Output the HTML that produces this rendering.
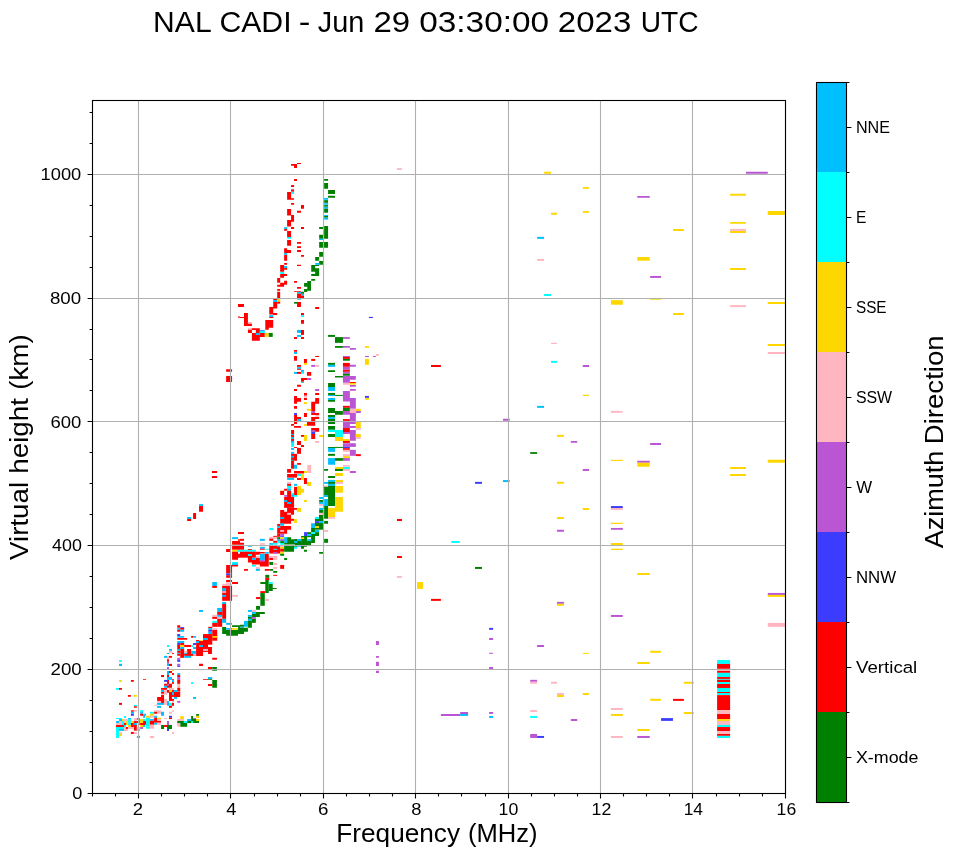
<!DOCTYPE html><html><head><meta charset="utf-8"><style>html,body{margin:0;padding:0;background:#fff}svg{display:block} svg{will-change:transform}</style></head><body>
<svg width="958" height="857" viewBox="0 0 958 857">
<rect width="958" height="857" fill="#fff"/>
<path d="M291.08 164.12h5.95v1.59h-5.95zM294.05 164.12h2.98v3.77h-2.98zM297.03 162.93h3.97v0.99h-3.97zM294.05 179h2.98v1.98h-2.98zM291.08 185.05h2.98v1.88h-2.98z" fill="#ff0000"/>
<path d="M291.08 188.92h2.98v0.79h-2.98z" fill="#ba55d3"/>
<path d="M291.08 189.71h2.98v1.98h-2.98z" fill="#ff0000"/>
<path d="M291.08 191.9h2.98v1.98h-2.98z" fill="#00ffff"/>
<path d="M287.11 191.9h3.97v7.93h-3.97zM291.08 198.14h2.98v1.69h-2.98zM291.08 203.1h2.98v1.69h-2.98zM301 205.09h2.98v3.77h-2.98zM297.03 210.84h3.97v1.98h-3.97zM287.11 209.05h3.97v6.45h-3.97zM291.08 215.01h2.98v6.65h-2.98zM287.11 219.96h3.97v6.65h-3.97z" fill="#ff0000"/>
<path d="M284.14 227.11h2.98v1.79h-2.98z" fill="#00bfff"/>
<path d="M284.14 228.89h2.98v1.98h-2.98zM291.08 227.11h2.98v1.79h-2.98zM301 227.11h2.98v1.79h-2.98zM287.11 231.07h3.97v5.95h-3.97z" fill="#ff0000"/>
<path d="M287.11 237.02h3.97v1.79h-3.97z" fill="#00ffff"/>
<path d="M324.11 179h3.97v1.79h-3.97zM324.11 183.07h3.97v5.65h-3.97zM328.07 189.91h6.94v3.97h-6.94zM328.07 195.86h6.94v1.98h-6.94z" fill="#008000"/>
<path d="M324.11 197.95h3.97v1.88h-3.97z" fill="#00bfff"/>
<path d="M324.11 200.13h3.97v2.68h-3.97z" fill="#008000"/>
<path d="M324.11 203.1h3.97v1.69h-3.97z" fill="#00bfff"/>
<path d="M324.11 205.09h3.97v1.69h-3.97z" fill="#008000"/>
<path d="M324.11 206.77h3.97v1.98h-3.97z" fill="#00bfff"/>
<path d="M324.11 208.76h3.97v3.97h-3.97z" fill="#008000"/>
<path d="M324.11 215.01h3.97v0.99h-3.97z" fill="#00bfff"/>
<path d="M324.11 216h3.97v1.69h-3.97z" fill="#008000"/>
<path d="M324.11 217.68h3.97v1.98h-3.97z" fill="#00bfff"/>
<path d="M324.11 226.11h3.97v12.7h-3.97zM319.15 227.11h3.97v1.79h-3.97zM319.15 234.84h3.97v3.97h-3.97z" fill="#008000"/>
<path d="M319.15 238.81h3.97v1.19h-3.97z" fill="#00bfff"/>
<path d="M287.11 240h3.97v5.75h-3.97zM297.03 241.98h3.97v1.79h-3.97zM297.03 246.15h3.97v1.79h-3.97zM297.03 250.12h3.97v1.79h-3.97zM284.14 248.13h2.98v4.76h-2.98zM287.11 249.92h3.97v2.98h-3.97z" fill="#ff0000"/>
<path d="M284.14 252.89h2.98v1.98h-2.98z" fill="#00bfff"/>
<path d="M284.14 254.88h2.98v5.95h-2.98zM301 254.88h2.98v1.98h-2.98zM284.14 263.11h2.98v1.69h-2.98zM297.03 264.8h3.97v1.19h-3.97zM280.17 264.99h3.97v6.74h-3.97z" fill="#ff0000"/>
<path d="M284.14 265.99h2.98v1.98h-2.98z" fill="#00bfff"/>
<path d="M284.14 267.97h2.98v1.79h-2.98z" fill="#ff0000"/>
<path d="M280.17 271.94h3.97v1.98h-3.97z" fill="#00ffff"/>
<path d="M280.17 273.92h3.97v3.77h-3.97zM284.14 273.92h2.98v1.98h-2.98zM277.19 277.89h2.98v4.76h-2.98zM280.17 282.85h3.97v3.77h-3.97zM284.14 280.86h2.98v3.77h-2.98zM277.19 284.83h6.94v1.98h-6.94zM294.05 280.96h2.98v1.88h-2.98zM297.03 286.91h3.97v1.88h-3.97zM277.19 288.9h2.98v1.88h-2.98zM294.05 290.88h6.94v0.99h-6.94zM277.19 291.87h2.98v6.15h-2.98z" fill="#ff0000"/>
<path d="M297.03 291.87h3.97v1.88h-3.97z" fill="#00bfff"/>
<path d="M297.03 293.76h3.97v4.26h-3.97z" fill="#ff0000"/>
<path d="M301 293.76h2.98v1.98h-2.98z" fill="#00bfff"/>
<path d="M301 295.74h2.98v2.28h-2.98z" fill="#ff0000"/>
<path d="M301 291.87h2.98v1.88h-2.98zM319.15 241.98h8.93v5.75h-8.93zM319.15 252.1h3.97v4.76h-3.97zM315.18 257.06h3.97v3.77h-3.97zM319.15 261.03h3.97v3.77h-3.97z" fill="#008000"/>
<path d="M315.18 263.01h3.97v1.79h-3.97z" fill="#00bfff"/>
<path d="M311.21 264.99h7.93v0.99h-7.93zM311.21 265.99h3.97v5.85h-3.97zM315.18 268.27h3.97v7.64h-3.97zM311.21 274.12h3.97v1.79h-3.97zM311.21 278.88h3.97v1.98h-3.97zM307.25 281.06h3.77v9.62h-3.77zM304.07 283.05h3.17v3.67h-3.17zM304.07 289.1h3.17v2.78h-3.17z" fill="#008000"/>
<path d="M273.23 298.72h3.97v1.29h-3.97z" fill="#ff0000"/>
<path d="M273.23 300.01h3.97v1.98h-3.97z" fill="#00bfff"/>
<path d="M277.19 299.01h2.98v2.68h-2.98z" fill="#ffd700"/>
<path d="M277.19 301.69h2.98v1.98h-2.98z" fill="#ff0000"/>
<path d="M297.03 298.72h3.97v0.99h-3.97z" fill="#00bfff"/>
<path d="M294.05 301.99h2.98v1.69h-2.98z" fill="#008000"/>
<path d="M297.03 301.99h3.97v4.96h-3.97zM273.23 301.99h3.97v6.45h-3.97zM269.26 306.95h3.97v7.44h-3.97zM273.23 312.9h3.97v1.98h-3.97z" fill="#ff0000"/>
<path d="M269.26 315.08h3.97v1.98h-3.97z" fill="#00bfff"/>
<path d="M269.26 317.07h3.97v0.99h-3.97zM240 303.97h3.97v2.98h-3.97zM315.18 306.95h3.97v1.98h-3.97zM301 313.1h2.98v1.79h-2.98z" fill="#ff0000"/>
<path d="M301 315.08h2.98v1.98h-2.98z" fill="#00ffff"/>
<path d="M301 320.04h2.98v3.77h-2.98zM243.97 313.1h3.97v11.9h-3.97zM240 317.07h3.97v0.99h-3.97z" fill="#ff0000"/>
<path d="M247.93 322.02h3.97v1.79h-3.97z" fill="#ffb6c1"/>
<path d="M247.93 323.81h3.97v1.19h-3.97zM265.29 320.04h7.93v4.96h-7.93zM243.97 325h7.93v0.99h-7.93zM265.29 325h7.93v2.78h-7.93zM265.29 327.78h3.47v1.98h-3.47z" fill="#ff0000"/>
<path d="M247.93 328.17h3.97v1.59h-3.97z" fill="#ffb6c1"/>
<path d="M251.9 328.17h7.93v1.79h-7.93zM247.93 329.76h3.97v3.17h-3.97zM255.87 329.76h3.97v3.17h-3.97z" fill="#ff0000"/>
<path d="M259.84 329.96h4.96v0.79h-4.96z" fill="#3c3cff"/>
<path d="M259.84 330.75h4.96v2.18h-4.96z" fill="#00ffff"/>
<path d="M255.87 332.93h3.97v1.98h-3.97z" fill="#00bfff"/>
<path d="M251.9 332.93h3.97v7.93h-3.97zM255.87 334.92h3.97v5.95h-3.97zM259.84 332.93h4.96v3.97h-4.96z" fill="#ff0000"/>
<path d="M264.8 332.93h3.97v3.97h-3.97z" fill="#ffd700"/>
<path d="M268.76 332.93h3.97v3.97h-3.97z" fill="#008000"/>
<path d="M297.03 329.96h3.97v2.98h-3.97z" fill="#00bfff"/>
<path d="M301 329.96h2.98v4.96h-2.98z" fill="#ff0000"/>
<path d="M297.03 334.92h3.97v1.98h-3.97z" fill="#00bfff"/>
<path d="M294.05 336.9h2.98v1.98h-2.98zM301 336.9h2.98v1.98h-2.98z" fill="#ff0000"/>
<path d="M328.07 334.92h6.94v1.98h-6.94z" fill="#008000"/>
<path d="M294.05 349.99h2.98v1.79h-2.98z" fill="#ff0000"/>
<path d="M294.05 351.98h2.98v1.98h-2.98z" fill="#00bfff"/>
<path d="M294.05 356.04h2.98v4.66h-2.98zM315.18 355.95h3.97v0.99h-3.97zM303.97 358.92h2.98v3.97h-2.98z" fill="#ff0000"/>
<path d="M303.97 362.89h2.98v1.98h-2.98z" fill="#ffd700"/>
<path d="M311.21 358.92h3.97v1.98h-3.97z" fill="#ff0000"/>
<path d="M311.21 364.87h3.97v1.98h-3.97z" fill="#ba55d3"/>
<path d="M315.18 364.87h3.97v1.98h-3.97z" fill="#ffb6c1"/>
<path d="M297.03 364.97h3.97v1.88h-3.97z" fill="#ff0000"/>
<path d="M297.03 367.15h3.97v1.69h-3.97z" fill="#00bfff"/>
<path d="M297.03 368.84h3.97v0.99h-3.97z" fill="#ff0000"/>
<path d="M301 369.93h2.98v1.98h-2.98z" fill="#00bfff"/>
<path d="M301 371.91h2.98v1.98h-2.98z" fill="#00ffff"/>
<path d="M297.03 371.91h3.97v1.98h-3.97z" fill="#ff0000"/>
<path d="M294.05 371.91h2.98v1.98h-2.98z" fill="#00bfff"/>
<path d="M306.95 371.91h4.26v3.87h-4.26zM301 378.06h5.95v1.98h-5.95zM301 380.05h2.98v1.79h-2.98z" fill="#ff0000"/>
<path d="M301 381.83h2.98v0.99h-2.98z" fill="#00bfff"/>
<path d="M306.95 378.06h4.26v1.98h-4.26z" fill="#ba55d3"/>
<path d="M297.03 384.81h3.97v1.98h-3.97zM294.05 388.97h2.98v1.98h-2.98z" fill="#ff0000"/>
<path d="M315.18 388.97h3.97v1.98h-3.97z" fill="#ba55d3"/>
<path d="M303.97 392.94h2.98v2.68h-2.98z" fill="#ff0000"/>
<path d="M303.97 395.92h2.98v1.79h-2.98z" fill="#ffb6c1"/>
<path d="M303.97 397.9h2.98v1.98h-2.98zM315.18 392.94h3.97v1.98h-3.97zM294.05 395.92h2.98v7.93h-2.98zM297.03 397.9h3.97v3.97h-3.97z" fill="#ff0000"/>
<path d="M303.97 402.07h2.98v1.98h-2.98z" fill="#ffd700"/>
<path d="M315.18 398.1h3.97v5.75h-3.97zM311.21 401.87h3.97v8.13h-3.97zM294.05 406.03h2.98v2.78h-2.98z" fill="#ff0000"/>
<path d="M306.95 408.81h4.26v1.19h-4.26z" fill="#ffd700"/>
<path d="M328.07 362.89h6.94v1.98h-6.94z" fill="#008000"/>
<path d="M328.07 364.87h6.94v1.98h-6.94z" fill="#00bfff"/>
<path d="M328.07 370.13h6.94v1.98h-6.94zM328.07 383.02h6.94v3.97h-6.94z" fill="#008000"/>
<path d="M328.07 386.99h6.94v3.97h-6.94z" fill="#00bfff"/>
<path d="M328.07 392.94h6.94v1.98h-6.94z" fill="#008000"/>
<path d="M328.07 394.92h6.94v0.99h-6.94zM328.07 397.9h6.94v1.98h-6.94z" fill="#00bfff"/>
<path d="M328.07 399.88h6.94v1.98h-6.94zM328.07 408.02h6.94v1.98h-6.94z" fill="#008000"/>
<path d="M306.95 410h4.26v0.79h-4.26z" fill="#ffd700"/>
<path d="M311.21 410h3.97v0.99h-3.97z" fill="#ff0000"/>
<path d="M311.21 410.99h3.97v1.98h-3.97z" fill="#ba55d3"/>
<path d="M294.05 412.98h2.98v1.98h-2.98z" fill="#3c3cff"/>
<path d="M303.97 412.98h2.98v3.97h-2.98zM311.21 412.98h7.93v1.98h-7.93z" fill="#ff0000"/>
<path d="M315.18 414.96h3.97v1.79h-3.97z" fill="#ffb6c1"/>
<path d="M294.05 414.96h2.98v5.95h-2.98zM297.03 416.94h3.97v1.98h-3.97z" fill="#ff0000"/>
<path d="M297.03 418.93h3.97v1.98h-3.97z" fill="#00bfff"/>
<path d="M311.21 416.94h3.97v3.97h-3.97zM315.18 416.94h3.97v1.98h-3.97zM294.05 421.9h2.98v1.98h-2.98zM291.08 424.08h2.98v1.79h-2.98zM294.05 426.07h6.94v1.79h-6.94z" fill="#ff0000"/>
<path d="M303.97 424.08h2.98v1.79h-2.98z" fill="#ffd700"/>
<path d="M306.95 422.1h8.23v3.77h-8.23zM311.21 428.05h7.93v3.77h-7.93z" fill="#ff0000"/>
<path d="M311.21 430.04h3.97v1.98h-3.97z" fill="#ba55d3"/>
<path d="M311.21 432.02h3.97v1.98h-3.97z" fill="#3c3cff"/>
<path d="M311.21 434h3.97v4.96h-3.97zM291.08 430.04h2.98v3.97h-2.98z" fill="#ff0000"/>
<path d="M291.08 434h2.98v0.99h-2.98z" fill="#00bfff"/>
<path d="M291.08 434.99h2.98v1.98h-2.98z" fill="#ff0000"/>
<path d="M291.08 436.98h2.98v1.98h-2.98z" fill="#00bfff"/>
<path d="M291.08 438.96h2.98v1.98h-2.98z" fill="#ff0000"/>
<path d="M291.08 440.95h2.98v1.98h-2.98z" fill="#00bfff"/>
<path d="M291.08 442.93h2.98v3.97h-2.98z" fill="#00ffff"/>
<path d="M301 434.99h2.98v1.79h-2.98z" fill="#ff0000"/>
<path d="M303.97 434.99h2.98v5.95h-2.98zM319.15 434.99h3.97v1.98h-3.97z" fill="#ffd700"/>
<path d="M315.18 440.95h3.97v1.98h-3.97z" fill="#ffb6c1"/>
<path d="M297.03 441.04h3.97v3.87h-3.97zM301 444.91h2.98v1.98h-2.98zM294.05 446.9h2.98v0.99h-2.98z" fill="#ff0000"/>
<path d="M291.08 447.89h2.98v1.98h-2.98z" fill="#00bfff"/>
<path d="M297.03 447.89h3.97v5.95h-3.97z" fill="#ff0000"/>
<path d="M291.08 451.95h2.98v1.88h-2.98z" fill="#00bfff"/>
<path d="M291.08 453.84h5.95v6.94h-5.95z" fill="#ff0000"/>
<path d="M291.08 455.82h2.98v1.98h-2.98zM291.08 459.79h2.98v0.99h-2.98z" fill="#00bfff"/>
<path d="M291.08 460.78h2.98v7.93h-2.98z" fill="#ff0000"/>
<path d="M294.05 464.75h2.98v3.97h-2.98z" fill="#00bfff"/>
<path d="M297.03 463.06h3.97v1.69h-3.97z" fill="#ff0000"/>
<path d="M307.25 465.05h3.97v7.93h-3.97z" fill="#ffb6c1"/>
<path d="M287.11 469.01h3.97v3.67h-3.97zM294.05 471h9.92v2.48h-9.92z" fill="#ff0000"/>
<path d="M303.97 471h2.98v1.98h-2.98z" fill="#ffd700"/>
<path d="M287.11 473.97h9.92v3.67h-9.92z" fill="#ff0000"/>
<path d="M297.03 473.97h3.97v1.98h-3.97z" fill="#00ffff"/>
<path d="M301 473.97h2.98v5.95h-2.98z" fill="#ffd700"/>
<path d="M287.11 477.94h6.94v1.98h-6.94z" fill="#00bfff"/>
<path d="M297.03 477.94h3.97v1.98h-3.97zM303.97 477.94h2.98v5.95h-2.98z" fill="#ff0000"/>
<path d="M306.95 481.91h4.26v3.97h-4.26z" fill="#ffd700"/>
<path d="M287.11 481.91h3.97v1.98h-3.97z" fill="#ffb6c1"/>
<path d="M287.11 483.89h3.97v1.98h-3.97z" fill="#ff0000"/>
<path d="M294.05 483.89h2.98v1.98h-2.98z" fill="#00bfff"/>
<path d="M287.11 485.88h3.97v2.48h-3.97z" fill="#00ffff"/>
<path d="M287.11 488.35h3.97v2.48h-3.97z" fill="#00bfff"/>
<path d="M284.14 488.85h2.98v1.98h-2.98zM280.17 490.83h3.97v4.17h-3.97zM287.11 490.83h3.97v4.17h-3.97z" fill="#ff0000"/>
<path d="M291.08 492.82h2.98v2.18h-2.98z" fill="#00ffff"/>
<path d="M294.05 486.87h2.98v8.13h-2.98z" fill="#ff0000"/>
<path d="M297.03 485.88h3.97v9.12h-3.97zM301 488.85h2.98v3.97h-2.98z" fill="#ffd700"/>
<path d="M328.07 410h6.94v2.98h-6.94zM328.07 414.96h6.94v1.98h-6.94z" fill="#008000"/>
<path d="M328.07 416.94h6.94v1.98h-6.94z" fill="#00bfff"/>
<path d="M328.07 418.93h6.94v1.98h-6.94zM328.07 421.9h6.94v1.98h-6.94zM328.07 426.07h6.94v3.77h-6.94z" fill="#008000"/>
<path d="M328.07 429.84h6.94v2.18h-6.94z" fill="#00ffff"/>
<path d="M328.07 434h6.94v2.98h-6.94zM328.07 446.9h6.94v0.99h-6.94z" fill="#008000"/>
<path d="M328.07 447.89h6.94v3.97h-6.94z" fill="#00bfff"/>
<path d="M328.07 453.84h6.94v1.98h-6.94z" fill="#008000"/>
<path d="M328.07 458.1h6.94v6.65h-6.94z" fill="#00bfff"/>
<path d="M324.11 469.01h3.97v1.69h-3.97zM328.07 475.96h6.94v1.98h-6.94z" fill="#008000"/>
<path d="M328.07 479.92h6.94v1.98h-6.94z" fill="#00bfff"/>
<path d="M328.07 481.91h6.94v1.98h-6.94z" fill="#008000"/>
<path d="M328.07 483.89h6.94v1.98h-6.94z" fill="#00bfff"/>
<path d="M324.11 485.88h10.91v9.12h-10.91z" fill="#008000"/>
<path d="M324.11 481.91h3.97v1.98h-3.97z" fill="#00bfff"/>
<path d="M324.11 485.88h3.97v0.99h-3.97z" fill="#ffb6c1"/>
<path d="M284.14 495h2.98v1.79h-2.98z" fill="#ba55d3"/>
<path d="M287.11 495h3.97v1.98h-3.97z" fill="#ff0000"/>
<path d="M291.08 495h2.98v1.79h-2.98z" fill="#00bfff"/>
<path d="M294.05 495h2.98v1.79h-2.98z" fill="#00ffff"/>
<path d="M284.14 496.98h9.92v10.91h-9.92z" fill="#ff0000"/>
<path d="M284.14 499.96h2.98v1.98h-2.98zM287.11 501.94h3.97v1.98h-3.97z" fill="#00bfff"/>
<path d="M287.11 507.89h6.94v6.94h-6.94zM294.05 507.89h2.98v1.98h-2.98z" fill="#ff0000"/>
<path d="M297.03 507.89h3.97v3.97h-3.97z" fill="#ffd700"/>
<path d="M280.17 509.88h3.97v1.98h-3.97zM280.17 511.86h10.91v11.9h-10.91z" fill="#ff0000"/>
<path d="M287.11 512.85h3.97v1.98h-3.97z" fill="#ffb6c1"/>
<path d="M280.17 517.02h3.97v1.98h-3.97z" fill="#00bfff"/>
<path d="M291.08 518.8h2.98v1.98h-2.98z" fill="#ff0000"/>
<path d="M294.05 519h2.98v3.97h-2.98z" fill="#ffd700"/>
<path d="M280.17 523.27h3.97v2.48h-3.97z" fill="#00bfff"/>
<path d="M277.19 523.96h2.98v1.98h-2.98z" fill="#ff0000"/>
<path d="M277.19 525.95h2.98v1.98h-2.98z" fill="#00bfff"/>
<path d="M280.17 525.95h10.91v3.77h-10.91zM277.19 527.93h9.92v5.75h-9.92z" fill="#ff0000"/>
<path d="M280.17 529.91h3.97v1.98h-3.97z" fill="#ffb6c1"/>
<path d="M269.26 527.93h3.97v1.98h-3.97z" fill="#00ffff"/>
<path d="M240 531.9h3.97v1.98h-3.97zM277.19 533.68h2.98v2.98h-2.98z" fill="#ff0000"/>
<path d="M280.17 533.88h3.97v1.98h-3.97z" fill="#ba55d3"/>
<path d="M280.17 535.86h3.97v0.99h-3.97z" fill="#3c3cff"/>
<path d="M269.26 536.86h7.93v1.98h-7.93z" fill="#ffb6c1"/>
<path d="M273.23 535.86h3.97v0.99h-3.97z" fill="#ff0000"/>
<path d="M277.19 537.15h2.98v1.98h-2.98z" fill="#008000"/>
<path d="M280.17 537.15h3.97v1.98h-3.97z" fill="#ffd700"/>
<path d="M284.14 537.15h2.98v5.95h-2.98z" fill="#00bfff"/>
<path d="M280.17 539.14h3.97v1.98h-3.97z" fill="#ba55d3"/>
<path d="M280.17 541.12h3.97v1.98h-3.97z" fill="#008000"/>
<path d="M277.19 539.14h2.98v1.98h-2.98z" fill="#00bfff"/>
<path d="M277.19 541.12h2.98v1.98h-2.98z" fill="#00ffff"/>
<path d="M240 538.84h3.97v1.98h-3.97z" fill="#ff0000"/>
<path d="M259.84 538.84h4.96v1.98h-4.96z" fill="#00bfff"/>
<path d="M269.26 538.84h3.97v1.98h-3.97zM273.23 540.82h3.97v1.98h-3.97zM240 542.81h3.97v1.98h-3.97z" fill="#ff0000"/>
<path d="M259.84 543.1h4.96v1.69h-4.96z" fill="#ffb6c1"/>
<path d="M269.26 543.1h3.97v1.69h-3.97z" fill="#00bfff"/>
<path d="M273.23 543.1h3.97v1.69h-3.97zM280.17 543.1h3.97v1.69h-3.97z" fill="#00ffff"/>
<path d="M287.11 537.15h3.97v7.44h-3.97zM284.14 543.1h26.78v1.49h-26.78zM291.08 539.14h5.95v3.97h-5.95z" fill="#008000"/>
<path d="M294.05 540.82h2.98v1.98h-2.98z" fill="#00bfff"/>
<path d="M297.03 540.82h3.97v2.28h-3.97z" fill="#008000"/>
<path d="M297.03 538.84h3.97v1.98h-3.97z" fill="#00bfff"/>
<path d="M301 537.15h2.98v1.98h-2.98z" fill="#ffd700"/>
<path d="M301 535.86h5.95v7.24h-5.95zM303.97 533.19h6.94v2.68h-6.94z" fill="#008000"/>
<path d="M303.97 531.9h2.98v3.97h-2.98z" fill="#3c3cff"/>
<path d="M306.95 533.88h3.97v1.98h-3.97z" fill="#00bfff"/>
<path d="M311.21 531.9h3.97v1.98h-3.97z" fill="#00ffff"/>
<path d="M311.21 528.23h3.97v14.38h-3.97z" fill="#008000"/>
<path d="M306.95 538.84h4.26v1.98h-4.26z" fill="#00bfff"/>
<path d="M315.18 531.9h3.97v3.97h-3.97z" fill="#008000"/>
<path d="M315.18 529.91h3.97v1.98h-3.97z" fill="#00bfff"/>
<path d="M311.21 523.96h11.9v5.75h-11.9z" fill="#008000"/>
<path d="M311.21 523.76h3.97v3.97h-3.97z" fill="#00bfff"/>
<path d="M315.18 525.95h3.97v1.98h-3.97z" fill="#ffd700"/>
<path d="M315.18 520.99h3.97v1.98h-3.97z" fill="#3c3cff"/>
<path d="M319.15 520.99h3.97v1.98h-3.97z" fill="#00bfff"/>
<path d="M315.18 517.02h3.97v1.98h-3.97z" fill="#00ffff"/>
<path d="M319.15 515.04h3.97v5.95h-3.97zM315.18 519h3.97v1.98h-3.97z" fill="#008000"/>
<path d="M319.15 496.98h3.97v1.98h-3.97z" fill="#00bfff"/>
<path d="M319.15 499.96h3.97v1.98h-3.97z" fill="#008000"/>
<path d="M319.15 501.94h3.97v1.98h-3.97z" fill="#00bfff"/>
<path d="M319.15 504.12h3.97v1.79h-3.97z" fill="#ffb6c1"/>
<path d="M319.15 507.89h3.97v1.98h-3.97z" fill="#00bfff"/>
<path d="M319.15 509.88h3.97v2.98h-3.97z" fill="#008000"/>
<path d="M319.15 513.05h3.97v1.79h-3.97z" fill="#ffb6c1"/>
<path d="M324.11 495h3.97v1.98h-3.97zM324.11 498.97h3.97v6.94h-3.97z" fill="#00bfff"/>
<path d="M328.07 495h6.94v10.91h-6.94zM324.11 505.91h3.97v12.89h-3.97z" fill="#008000"/>
<path d="M328.07 507.89h6.94v9.12h-6.94z" fill="#ffd700"/>
<path d="M328.07 517.02h6.94v1.79h-6.94z" fill="#ffb6c1"/>
<path d="M324.11 520.99h3.97v2.78h-3.97z" fill="#008000"/>
<path d="M324.11 529.91h3.97v1.98h-3.97z" fill="#ffb6c1"/>
<path d="M324.11 538.84h3.97v3.97h-3.97z" fill="#008000"/>
<path d="M303.97 499.96h2.98v1.98h-2.98z" fill="#ffd700"/>
<path d="M247.93 545.78h3.97v0.99h-3.97z" fill="#00bfff"/>
<path d="M259.84 544.79h4.96v0.99h-4.96z" fill="#ffb6c1"/>
<path d="M240 545.78h3.97v3.97h-3.97zM247.93 549.05h3.97v0.99h-3.97z" fill="#ff0000"/>
<path d="M240 549.75h15.87v1.98h-15.87z" fill="#00ffff"/>
<path d="M259.84 546.77h4.96v1.98h-4.96z" fill="#00bfff"/>
<path d="M259.84 548.76h4.96v0.99h-4.96z" fill="#ff0000"/>
<path d="M264.8 548.76h3.97v0.99h-3.97z" fill="#00ffff"/>
<path d="M269.26 545.78h10.91v7.74h-10.91z" fill="#ff0000"/>
<path d="M277.19 545.78h2.98v0.99h-2.98z" fill="#00bfff"/>
<path d="M273.23 548.76h3.97v0.99h-3.97z" fill="#00ffff"/>
<path d="M280.17 546.77h3.97v1.98h-3.97z" fill="#ffd700"/>
<path d="M280.17 545.78h3.97v0.99h-3.97z" fill="#ffb6c1"/>
<path d="M280.17 548.76h3.97v2.98h-3.97z" fill="#ff0000"/>
<path d="M280.17 551.73h3.97v1.98h-3.97z" fill="#ffd700"/>
<path d="M280.17 553.72h3.97v1.98h-3.97zM284.14 545.78h9.92v5.95h-9.92zM294.05 545.78h2.98v0.99h-2.98z" fill="#008000"/>
<path d="M294.05 546.77h2.98v1.98h-2.98z" fill="#00ffff"/>
<path d="M297.03 545.78h3.97v0.99h-3.97z" fill="#00bfff"/>
<path d="M301 545.78h2.98v2.98h-2.98zM303.97 545.78h2.98v0.99h-2.98zM303.97 549.75h2.98v1.98h-2.98z" fill="#008000"/>
<path d="M240 551.73h15.87v5.95h-15.87z" fill="#ff0000"/>
<path d="M247.93 554.01h3.97v1.98h-3.97z" fill="#00ffff"/>
<path d="M255.87 551.73h3.97v2.98h-3.97zM259.84 552.03h4.96v1.49h-4.96z" fill="#ff0000"/>
<path d="M264.8 552.03h3.97v1.69h-3.97z" fill="#00bfff"/>
<path d="M273.23 552.03h3.97v1.69h-3.97z" fill="#ba55d3"/>
<path d="M259.84 554.01h4.96v5.95h-4.96z" fill="#00bfff"/>
<path d="M255.87 556h3.97v1.98h-3.97z" fill="#ffb6c1"/>
<path d="M251.9 557.98h3.97v1.98h-3.97z" fill="#00bfff"/>
<path d="M247.93 556h3.97v6.45h-3.97zM251.9 559.96h7.93v4.46h-7.93zM255.87 557.98h3.97v1.98h-3.97zM264.8 554.01h3.97v10.41h-3.97zM259.84 560.96h8.93v5.46h-8.93z" fill="#ff0000"/>
<path d="M259.84 559.96h4.96v1.69h-4.96z" fill="#ba55d3"/>
<path d="M269.26 556h7.93v1.98h-7.93z" fill="#ffb6c1"/>
<path d="M269.26 557.98h3.97v1.98h-3.97z" fill="#ff0000"/>
<path d="M273.23 557.98h3.97v1.98h-3.97z" fill="#ffb6c1"/>
<path d="M269.26 561.95h3.97v2.98h-3.97z" fill="#008000"/>
<path d="M273.23 562.94h3.97v1.98h-3.97z" fill="#ffb6c1"/>
<path d="M251.9 564.92h3.97v1.69h-3.97z" fill="#00ffff"/>
<path d="M255.87 566.91h3.97v1.98h-3.97z" fill="#ffb6c1"/>
<path d="M255.87 568.89h3.97v1.98h-3.97z" fill="#00bfff"/>
<path d="M243.97 568.89h3.97v1.98h-3.97zM264.8 568.89h4.46v1.98h-4.46z" fill="#ff0000"/>
<path d="M269.26 568.89h3.97v1.98h-3.97zM273.23 570.88h3.97v1.98h-3.97z" fill="#008000"/>
<path d="M273.23 566.91h3.97v1.98h-3.97z" fill="#ffb6c1"/>
<path d="M280.17 564.92h3.97v3.97h-3.97z" fill="#ff0000"/>
<path d="M284.14 557.98h2.98v1.98h-2.98zM319.15 552.03h3.97v1.69h-3.97z" fill="#008000"/>
<path d="M273.23 574.84h3.97v0.99h-3.97z" fill="#ff0000"/>
<path d="M265.29 574.84h3.97v2.98h-3.97z" fill="#008000"/>
<path d="M265.29 577.82h3.97v2.18h-3.97z" fill="#ff0000"/>
<path d="M265.29 580h3.47v12.89h-3.47zM260.33 581.98h4.96v1.98h-4.96z" fill="#008000"/>
<path d="M268.76 581.98h3.97v1.98h-3.97z" fill="#00ffff"/>
<path d="M268.76 583.97h3.97v3.97h-3.97zM268.76 587.93h7.93v0.99h-7.93zM268.76 588.93h3.97v1.98h-3.97z" fill="#008000"/>
<path d="M260.33 591.11h4.96v1.98h-4.96z" fill="#ff0000"/>
<path d="M260.33 593.09h4.46v12.7h-4.46z" fill="#008000"/>
<path d="M256.07 597.06h4.26v1.98h-4.26z" fill="#ff0000"/>
<path d="M265.29 599.04h3.47v1.98h-3.47z" fill="#ffb6c1"/>
<path d="M256.07 605.99h3.97v3.77h-3.97z" fill="#008000"/>
<path d="M247.93 609.95h3.97v1.98h-3.97z" fill="#00bfff"/>
<path d="M251.9 609.95h3.97v1.98h-3.97z" fill="#ffb6c1"/>
<path d="M251.9 611.94h3.97v1.98h-3.97z" fill="#00bfff"/>
<path d="M255.87 611.94h8.93v1.98h-8.93zM251.9 613.92h7.93v2.98h-7.93z" fill="#008000"/>
<path d="M247.93 614.91h3.97v1.98h-3.97z" fill="#00bfff"/>
<path d="M247.93 616.9h3.97v1.98h-3.97z" fill="#008000"/>
<path d="M251.9 616.9h3.97v1.98h-3.97z" fill="#ba55d3"/>
<path d="M247.93 618.88h3.97v1.98h-3.97z" fill="#00bfff"/>
<path d="M251.9 618.88h3.97v3.97h-3.97z" fill="#008000"/>
<path d="M243.97 620.86h3.97v5.95h-3.97z" fill="#00bfff"/>
<path d="M247.93 620.86h3.97v6.94h-3.97zM240 624.83h3.97v1.98h-3.97z" fill="#008000"/>
<path d="M240 626.81h3.97v0.99h-3.97z" fill="#00bfff"/>
<path d="M240 627.81h7.93v3.97h-7.93zM240 631.77h3.97v2.28h-3.97z" fill="#008000"/>
<path d="M238.03 303.97h1.98v2.98h-1.98zM238.03 316.57h1.98v1.29h-1.98zM226.13 369.14h5.95v2.68h-5.95zM226.13 376.08h5.95v5.95h-5.95zM211.95 471h5.16v1.98h-5.16zM211.95 475.96h5.16v1.98h-5.16zM238.03 531.9h1.98v1.98h-1.98zM238.03 539.14h1.98v1.69h-1.98z" fill="#ff0000"/>
<path d="M238.03 550.05h1.98v1.98h-1.98z" fill="#00ffff"/>
<path d="M199.05 504.12h3.97v1.79h-3.97z" fill="#00bfff"/>
<path d="M199.05 505.91h3.97v5.95h-3.97zM193.1 513.05h2.98v5.95h-2.98z" fill="#ff0000"/>
<path d="M187.15 517.02h3.97v1.98h-3.97z" fill="#00bfff"/>
<path d="M187.15 519h3.97v1.98h-3.97z" fill="#ff0000"/>
<path d="M232.08 537.15h5.95v1.98h-5.95z" fill="#00bfff"/>
<path d="M232.08 541.12h7.93v3.67h-7.93zM232.08 546.08h7.93v3.67h-7.93z" fill="#ff0000"/>
<path d="M232.08 549.75h5.95v1.98h-5.95z" fill="#ffd700"/>
<path d="M232.08 551.73h5.95v7.93h-5.95zM238.03 553.72h1.98v3.97h-1.98zM226.13 549.05h3.97v2.98h-3.97z" fill="#ff0000"/>
<path d="M232.08 561.95h5.95v2.98h-5.95z" fill="#00ffff"/>
<path d="M231.09 564.92h6.94v1.69h-6.94zM226.13 564.92h5.95v8.43h-5.95z" fill="#ff0000"/>
<path d="M226.13 573.35h5.95v1.98h-5.95z" fill="#3c3cff"/>
<path d="M226.13 575.34h5.95v2.48h-5.95zM226.13 580h5.95v1.98h-5.95zM232.08 581.98h5.95v1.98h-5.95z" fill="#ff0000"/>
<path d="M212.25 581.98h4.66v3.97h-4.66z" fill="#00bfff"/>
<path d="M212.25 585.95h4.66v1.98h-4.66z" fill="#ff0000"/>
<path d="M222.16 583.97h9.92v1.98h-9.92z" fill="#ffb6c1"/>
<path d="M222.16 585.95h9.92v14.88h-9.92z" fill="#ff0000"/>
<path d="M222.16 588.13h3.97v2.78h-3.97z" fill="#00bfff"/>
<path d="M222.16 591.11h3.97v1.79h-3.97z" fill="#ffb6c1"/>
<path d="M222.16 594.88h3.97v1.98h-3.97z" fill="#00bfff"/>
<path d="M232.08 594.88h5.95v1.98h-5.95z" fill="#ffb6c1"/>
<path d="M222.16 602.02h3.97v1.98h-3.97z" fill="#00bfff"/>
<path d="M222.16 604h3.97v14.88h-3.97z" fill="#ff0000"/>
<path d="M217.21 607.97h4.96v3.97h-4.96z" fill="#00bfff"/>
<path d="M217.21 611.94h4.96v2.98h-4.96z" fill="#ff0000"/>
<path d="M217.21 614.91h4.96v1.98h-4.96z" fill="#00bfff"/>
<path d="M212.25 614.91h4.96v1.98h-4.96z" fill="#ffb6c1"/>
<path d="M212.25 616.9h4.96v1.98h-4.96z" fill="#ff0000"/>
<path d="M217.21 616.9h4.96v1.98h-4.96z" fill="#ffb6c1"/>
<path d="M217.21 618.88h4.96v7.93h-4.96z" fill="#ff0000"/>
<path d="M222.16 618.88h3.97v3.97h-3.97z" fill="#00bfff"/>
<path d="M212.25 620.86h4.96v1.98h-4.96z" fill="#00ffff"/>
<path d="M226.13 622.85h5.95v1.98h-5.95z" fill="#00bfff"/>
<path d="M212.25 622.85h4.96v3.97h-4.96z" fill="#ff0000"/>
<path d="M199.05 609.95h3.97v1.98h-3.97z" fill="#00bfff"/>
<path d="M222.16 627.11h3.97v6.94h-3.97zM226.13 630.09h11.9v5.65h-11.9zM232.08 625.13h7.93v1.98h-7.93z" fill="#008000"/>
<path d="M226.13 628.1h5.95v1.69h-5.95z" fill="#00bfff"/>
<path d="M232.08 628.1h5.95v1.69h-5.95z" fill="#ffd700"/>
<path d="M238.03 627.11h1.98v6.94h-1.98z" fill="#008000"/>
<path d="M208.28 626.81h3.97v1.29h-3.97z" fill="#ff0000"/>
<path d="M208.28 628.1h3.97v1.69h-3.97z" fill="#00bfff"/>
<path d="M208.28 629.79h3.97v1.98h-3.97z" fill="#3c3cff"/>
<path d="M208.28 631.77h3.97v2.28h-3.97z" fill="#00bfff"/>
<path d="M212.25 629.79h4.96v10.91h-4.96z" fill="#ff0000"/>
<path d="M212.25 628.1h4.96v1.69h-4.96z" fill="#ffb6c1"/>
<path d="M212.25 636.04h4.96v1.69h-4.96z" fill="#ffd700"/>
<path d="M203.02 634.05h9.22v10.61h-9.22z" fill="#ff0000"/>
<path d="M203.02 638.02h4.96v1.98h-4.96z" fill="#00bfff"/>
<path d="M199.05 640.01h3.97v0.69h-3.97z" fill="#ffd700"/>
<path d="M196.08 640.01h2.98v0.99h-2.98zM196.08 641h6.94v14.88h-6.94z" fill="#ff0000"/>
<path d="M196.08 641h2.98v1.98h-2.98zM199.05 644.96h3.97v1.98h-3.97z" fill="#00bfff"/>
<path d="M203.02 643.97h4.96v7.93h-4.96z" fill="#ff0000"/>
<path d="M203.02 648.93h4.96v1.98h-4.96z" fill="#ffb6c1"/>
<path d="M207.98 646.95h3.97v6.94h-3.97zM177.23 625.13h2.98v2.68h-2.98z" fill="#ff0000"/>
<path d="M180.21 627.11h3.97v0.99h-3.97z" fill="#3c3cff"/>
<path d="M177.23 628.1h2.98v1.69h-2.98z" fill="#00bfff"/>
<path d="M180.21 628.1h3.97v1.69h-3.97zM177.23 629.79h2.98v1.98h-2.98z" fill="#ff0000"/>
<path d="M180.21 629.79h3.97v1.98h-3.97z" fill="#00bfff"/>
<path d="M177.23 634.05h2.98v1.98h-2.98z" fill="#3c3cff"/>
<path d="M177.23 636.04h6.94v1.69h-6.94z" fill="#00bfff"/>
<path d="M177.23 638.02h9.92v1.69h-9.92zM191.12 636.04h1.98v1.69h-1.98z" fill="#ff0000"/>
<path d="M193.1 636.04h2.98v1.69h-2.98zM177.23 641h6.94v1.98h-6.94z" fill="#00bfff"/>
<path d="M177.23 642.98h2.98v1.98h-2.98z" fill="#3c3cff"/>
<path d="M180.21 642.98h3.97v1.98h-3.97zM177.23 644.96h2.98v4.46h-2.98z" fill="#ff0000"/>
<path d="M180.21 644.96h3.97v1.98h-3.97z" fill="#ffd700"/>
<path d="M184.18 644.96h6.94v1.98h-6.94z" fill="#ff0000"/>
<path d="M191.12 644.96h1.98v1.98h-1.98z" fill="#00ffff"/>
<path d="M193.1 642.98h2.98v1.98h-2.98z" fill="#3c3cff"/>
<path d="M180.21 646.95h3.97v1.98h-3.97zM193.1 646.95h2.98v1.98h-2.98z" fill="#00bfff"/>
<path d="M180.21 648.93h3.97v8.93h-3.97z" fill="#ff0000"/>
<path d="M177.23 648.93h2.98v1.98h-2.98z" fill="#00bfff"/>
<path d="M177.23 650.92h2.98v1.98h-2.98z" fill="#ff0000"/>
<path d="M177.23 652.9h2.98v0.99h-2.98z" fill="#00bfff"/>
<path d="M177.23 653.89h2.98v1.98h-2.98zM187.15 648.93h3.97v6.94h-3.97z" fill="#ff0000"/>
<path d="M184.18 650.92h2.98v1.98h-2.98z" fill="#ffb6c1"/>
<path d="M184.18 652.9h2.98v0.99h-2.98z" fill="#00bfff"/>
<path d="M184.18 653.89h11.9v1.98h-11.9z" fill="#ff0000"/>
<path d="M191.12 650.92h4.96v2.98h-4.96z" fill="#00bfff"/>
<path d="M193.1 653.89h2.98v1.98h-2.98z" fill="#ffb6c1"/>
<path d="M184.18 655.88h6.94v1.98h-6.94z" fill="#00bfff"/>
<path d="M167.02 644.96h1.98v1.98h-1.98z" fill="#00ffff"/>
<path d="M169 648.93h2.98v1.98h-2.98z" fill="#00bfff"/>
<path d="M169 650.92h2.98v1.98h-2.98z" fill="#ffb6c1"/>
<path d="M167.02 652.9h1.98v0.99h-1.98z" fill="#00bfff"/>
<path d="M171.98 652.9h1.98v0.99h-1.98z" fill="#ff0000"/>
<path d="M164.04 655.88h2.98v1.98h-2.98z" fill="#00bfff"/>
<path d="M167.02 655.88h1.98v3.47h-1.98z" fill="#ffb6c1"/>
<path d="M169 655.88h2.98v1.98h-2.98zM167.02 659.35h1.98v2.48h-1.98z" fill="#ff0000"/>
<path d="M167.02 661.83h1.98v1.98h-1.98z" fill="#ba55d3"/>
<path d="M167.02 663.81h1.98v1.19h-1.98z" fill="#00bfff"/>
<path d="M169 663.81h2.98v1.19h-2.98z" fill="#ff0000"/>
<path d="M177.23 657.86h2.98v1.98h-2.98z" fill="#ba55d3"/>
<path d="M177.23 659.84h2.98v1.98h-2.98z" fill="#3c3cff"/>
<path d="M177.23 663.81h2.98v1.19h-2.98z" fill="#ba55d3"/>
<path d="M212.25 657.86h4.66v1.98h-4.66zM199.05 663.81h3.97v1.19h-3.97z" fill="#ff0000"/>
<path d="M167.02 665h1.98v0.99h-1.98z" fill="#00bfff"/>
<path d="M169 665h2.98v0.99h-2.98z" fill="#ff0000"/>
<path d="M177.23 665h2.98v1.19h-2.98z" fill="#ba55d3"/>
<path d="M177.23 666.19h2.98v0.79h-2.98z" fill="#3c3cff"/>
<path d="M199.05 665h3.97v0.99h-3.97z" fill="#ff0000"/>
<path d="M167.02 666.98h1.98v1.98h-1.98z" fill="#ba55d3"/>
<path d="M171.98 669.46h1.98v1.49h-1.98z" fill="#ffd700"/>
<path d="M207.98 666.98h4.26v1.98h-4.26z" fill="#ff0000"/>
<path d="M212.25 666.98h4.66v3.77h-4.66z" fill="#008000"/>
<path d="M167.02 670.95h1.98v3.97h-1.98z" fill="#00bfff"/>
<path d="M169 670.95h2.98v1.98h-2.98zM171.98 672.93h1.98v1.98h-1.98z" fill="#ff0000"/>
<path d="M177.23 673.13h2.98v1.79h-2.98z" fill="#00bfff"/>
<path d="M177.23 674.92h2.98v2.18h-2.98z" fill="#ff0000"/>
<path d="M177.23 677.1h2.98v2.78h-2.98z" fill="#ba55d3"/>
<path d="M177.23 679.88h2.98v3.97h-2.98z" fill="#ff0000"/>
<path d="M177.23 684.04h2.98v3.77h-2.98z" fill="#ffb6c1"/>
<path d="M177.23 687.81h2.98v3.97h-2.98z" fill="#ff0000"/>
<path d="M177.23 691.78h2.98v1.19h-2.98z" fill="#ffb6c1"/>
<path d="M173.96 691.98h6.25v4.96h-6.25zM161.07 674.92h2.98v1.98h-2.98zM167.02 674.92h1.98v1.98h-1.98z" fill="#ff0000"/>
<path d="M167.02 676.9h4.96v2.98h-4.96z" fill="#00bfff"/>
<path d="M171.98 679.08h1.98v0.79h-1.98z" fill="#ff0000"/>
<path d="M171.98 679.88h1.98v2.18h-1.98z" fill="#00bfff"/>
<path d="M171.98 682.06h1.98v1.79h-1.98z" fill="#ff0000"/>
<path d="M164.04 679.88h2.98v1.98h-2.98z" fill="#3c3cff"/>
<path d="M167.02 679.88h1.98v7.93h-1.98z" fill="#ff0000"/>
<path d="M167.02 683.84h1.98v2.18h-1.98z" fill="#ba55d3"/>
<path d="M169 683.84h2.98v3.97h-2.98zM164.04 683.84h2.98v1.98h-2.98z" fill="#ff0000"/>
<path d="M164.04 685.83h2.98v1.98h-2.98z" fill="#00bfff"/>
<path d="M161.07 688.01h5.95v1.79h-5.95z" fill="#ff0000"/>
<path d="M169 688.01h4.96v1.79h-4.96z" fill="#ffb6c1"/>
<path d="M161.07 689.99h2.98v1.98h-2.98z" fill="#00bfff"/>
<path d="M164.04 689.99h2.98v4.76h-2.98z" fill="#ffb6c1"/>
<path d="M167.02 689.99h1.98v2.78h-1.98z" fill="#ff0000"/>
<path d="M169 689.99h2.98v1.98h-2.98z" fill="#ffd700"/>
<path d="M171.98 689.99h1.98v1.98h-1.98z" fill="#ff0000"/>
<path d="M173.96 689.99h3.27v1.98h-3.27z" fill="#00bfff"/>
<path d="M161.07 691.98h2.98v1.79h-2.98zM161.07 694.75h2.98v8.13h-2.98zM157.1 696.94h3.97v3.97h-3.97z" fill="#ff0000"/>
<path d="M157.1 700.9h3.97v1.98h-3.97z" fill="#ffb6c1"/>
<path d="M157.1 702.89h6.94v1.98h-6.94z" fill="#00bfff"/>
<path d="M164.04 698.92h2.98v5.95h-2.98z" fill="#ffb6c1"/>
<path d="M169 691.98h2.98v8.93h-2.98z" fill="#ff0000"/>
<path d="M171.98 691.98h1.98v2.98h-1.98z" fill="#00bfff"/>
<path d="M171.98 694.95h1.98v1.98h-1.98z" fill="#ff0000"/>
<path d="M173.96 696.94h3.27v1.98h-3.27z" fill="#00bfff"/>
<path d="M169 698.92h4.96v1.98h-4.96z" fill="#ff0000"/>
<path d="M167.02 700.9h1.98v4.96h-1.98z" fill="#00bfff"/>
<path d="M169 702.89h2.98v2.98h-2.98z" fill="#00ffff"/>
<path d="M171.98 702.89h1.98v2.98h-1.98z" fill="#ff0000"/>
<path d="M171.98 700.9h1.98v1.98h-1.98z" fill="#ffb6c1"/>
<path d="M157.1 705.86h3.97v1.98h-3.97z" fill="#00bfff"/>
<path d="M169 705.86h2.98v1.98h-2.98z" fill="#ff0000"/>
<path d="M177.23 700.9h2.98v1.98h-2.98z" fill="#ba55d3"/>
<path d="M145 679.08h0.99v0.79h-0.99z" fill="#ff0000"/>
<path d="M191.12 682.06h1.98v1.98h-1.98z" fill="#00ffff"/>
<path d="M193.1 696.94h2.98v1.98h-2.98z" fill="#00bfff"/>
<path d="M154.12 704.87h2.98v0.99h-2.98zM154.12 710.13h6.94v1.69h-6.94zM157.1 711.81h3.97v1.98h-3.97z" fill="#ffb6c1"/>
<path d="M154.12 711.81h2.98v1.98h-2.98z" fill="#ff0000"/>
<path d="M149.96 711.81h4.17v1.98h-4.17z" fill="#00ffff"/>
<path d="M145.99 715.78h3.97v1.98h-3.97zM149.96 713.8h4.17v1.98h-4.17z" fill="#ffd700"/>
<path d="M149.96 715.78h4.17v1.98h-4.17z" fill="#ffb6c1"/>
<path d="M154.12 715.78h2.98v1.98h-2.98z" fill="#00bfff"/>
<path d="M157.1 717.77h3.97v1.29h-3.97z" fill="#ffd700"/>
<path d="M145 713.8h0.99v1.98h-0.99zM161.07 711.81h2.98v3.97h-2.98z" fill="#00bfff"/>
<path d="M169 711.81h2.98v1.98h-2.98zM171.98 710.13h1.98v1.69h-1.98z" fill="#ffb6c1"/>
<path d="M145.99 717.77h3.97v8.93h-3.97z" fill="#00ffff"/>
<path d="M149.96 719.05h4.17v1.69h-4.17z" fill="#00bfff"/>
<path d="M149.96 720.74h4.17v3.97h-4.17zM154.12 717.77h2.98v4.96h-2.98zM157.1 720.74h3.97v1.98h-3.97z" fill="#ff0000"/>
<path d="M157.1 719.05h3.97v1.69h-3.97z" fill="#ffb6c1"/>
<path d="M154.12 722.72h2.98v1.98h-2.98z" fill="#00bfff"/>
<path d="M157.1 722.72h3.97v1.98h-3.97z" fill="#ffb6c1"/>
<path d="M145 720.74h0.99v3.97h-0.99z" fill="#ff0000"/>
<path d="M145.99 726.69h3.97v1.98h-3.97z" fill="#00ffff"/>
<path d="M149.96 724.71h4.17v3.97h-4.17z" fill="#ffb6c1"/>
<path d="M169 715.78h2.98v1.98h-2.98z" fill="#3c3cff"/>
<path d="M169 717.77h2.98v1.29h-2.98z" fill="#ff0000"/>
<path d="M164.04 718.06h2.98v0.99h-2.98z" fill="#ffb6c1"/>
<path d="M167.02 721.04h1.98v3.97h-1.98z" fill="#ba55d3"/>
<path d="M167.02 725.01h4.96v3.97h-4.96z" fill="#008000"/>
<path d="M167.02 728.97h1.98v1.98h-1.98z" fill="#3c3cff"/>
<path d="M161.07 725.01h2.98v3.97h-2.98z" fill="#008000"/>
<path d="M164.04 725.01h2.98v1.98h-2.98z" fill="#ff0000"/>
<path d="M171.98 731.95h1.98v1.98h-1.98zM149.96 735.92h4.17v1.98h-4.17z" fill="#ffb6c1"/>
<path d="M180.21 716.08h3.67v2.98h-3.67z" fill="#ffd700"/>
<path d="M177.23 719.05h6.65v1.98h-6.65z" fill="#ffb6c1"/>
<path d="M177.23 721.04h6.65v1.98h-6.65zM180.21 723.02h6.94v3.67h-6.94z" fill="#008000"/>
<path d="M177.23 723.02h2.98v3.67h-2.98z" fill="#ffb6c1"/>
<path d="M183.88 721.04h3.27v1.98h-3.27z" fill="#00ffff"/>
<path d="M187.15 719.05h3.97v1.98h-3.97z" fill="#00bfff"/>
<path d="M187.15 721.04h3.97v1.98h-3.97zM191.12 716.08h1.98v2.98h-1.98zM191.12 719.05h7.93v3.97h-7.93z" fill="#008000"/>
<path d="M193.1 718.06h2.98v0.99h-2.98z" fill="#ba55d3"/>
<path d="M191.12 721.04h1.98v1.98h-1.98z" fill="#00ffff"/>
<path d="M196.08 716.08h2.98v1.98h-2.98zM196.08 719.05h2.98v1.98h-2.98z" fill="#ffd700"/>
<path d="M196.08 714.1h2.98v1.69h-2.98z" fill="#008000"/>
<path d="M203.02 679.08h4.96v0.79h-4.96z" fill="#ff0000"/>
<path d="M207.98 677.1h4.26v1.98h-4.26z" fill="#00bfff"/>
<path d="M207.98 679.08h4.26v0.79h-4.26zM212.25 680.08h4.66v7.74h-4.66z" fill="#008000"/>
<path d="M207.98 684.04h4.26v1.98h-4.26z" fill="#ff0000"/>
<path d="M119 660.14h2.98v1.69h-2.98z" fill="#00ffff"/>
<path d="M119 663.81h2.98v1.19h-2.98zM119 665h2.98v0.99h-2.98z" fill="#00bfff"/>
<path d="M119 680.08h2.98v1.79h-2.98z" fill="#ffd700"/>
<path d="M130.9 680.08h2.98v1.79h-2.98zM143 679.08h1.98v0.79h-1.98z" fill="#ff0000"/>
<path d="M116.03 688.01h2.98v1.79h-2.98z" fill="#00ffff"/>
<path d="M119 688.01h2.98v1.79h-2.98zM127.93 694.95h2.98v1.79h-2.98z" fill="#ff0000"/>
<path d="M133.88 694.95h2.98v1.79h-2.98z" fill="#ffd700"/>
<path d="M119 702.89h2.98v1.98h-2.98z" fill="#ff0000"/>
<path d="M133.88 704.87h2.98v1.29h-2.98z" fill="#00ffff"/>
<path d="M133.88 706.16h2.98v1.69h-2.98zM130.9 710.13h2.98v1.69h-2.98z" fill="#ff0000"/>
<path d="M133.88 710.13h2.98v1.69h-2.98z" fill="#ffb6c1"/>
<path d="M130.9 711.81h2.98v1.98h-2.98z" fill="#00bfff"/>
<path d="M130.9 713.8h2.98v1.98h-2.98z" fill="#3c3cff"/>
<path d="M140.13 710.13h2.98v1.98h-2.98z" fill="#00ffff"/>
<path d="M140.13 712.11h2.98v1.69h-2.98z" fill="#00bfff"/>
<path d="M140.13 713.8h2.98v1.98h-2.98z" fill="#ff0000"/>
<path d="M143.1 713.8h1.88v3.97h-1.88z" fill="#00bfff"/>
<path d="M123.96 716.08h1.98v1.98h-1.98zM116.03 718.06h5.95v0.99h-5.95z" fill="#00ffff"/>
<path d="M119 719.05h2.98v1.98h-2.98z" fill="#00bfff"/>
<path d="M121.98 719.05h1.98v1.98h-1.98z" fill="#ffd700"/>
<path d="M123.96 719.05h3.97v2.48h-3.97z" fill="#ffb6c1"/>
<path d="M127.93 718.06h2.98v6.94h-2.98z" fill="#00ffff"/>
<path d="M127.93 718.06h2.98v0.99h-2.98zM116.03 721.04h2.98v1.98h-2.98z" fill="#00bfff"/>
<path d="M119 721.04h2.98v2.98h-2.98z" fill="#ffb6c1"/>
<path d="M121.98 721.04h1.98v3.97h-1.98z" fill="#00ffff"/>
<path d="M123.96 721.53h1.98v2.48h-1.98z" fill="#ffb6c1"/>
<path d="M125.95 721.04h1.98v3.97h-1.98z" fill="#ffd700"/>
<path d="M116.03 723.02h5.95v1.98h-5.95z" fill="#ffb6c1"/>
<path d="M116.03 725.01h7.93v1.98h-7.93z" fill="#ff0000"/>
<path d="M123.96 725.01h1.98v1.98h-1.98z" fill="#00ffff"/>
<path d="M123.96 723.02h1.98v1.98h-1.98z" fill="#ff0000"/>
<path d="M127.93 725.01h2.98v1.98h-2.98z" fill="#ffd700"/>
<path d="M130.9 723.02h2.98v3.97h-2.98z" fill="#ff0000"/>
<path d="M130.9 721.04h2.98v1.98h-2.98z" fill="#ffd700"/>
<path d="M133.88 721.04h2.98v1.98h-2.98z" fill="#ff0000"/>
<path d="M133.88 718.06h2.98v2.98h-2.98z" fill="#ffb6c1"/>
<path d="M133.88 723.02h2.98v1.98h-2.98z" fill="#00bfff"/>
<path d="M133.88 725.01h2.98v5.65h-2.98z" fill="#ff0000"/>
<path d="M136.86 718.06h1.59v1.98h-1.59z" fill="#ba55d3"/>
<path d="M138.44 718.06h1.69v6.94h-1.69z" fill="#00bfff"/>
<path d="M140.13 719.05h2.98v3.97h-2.98z" fill="#ffd700"/>
<path d="M140.13 723.02h4.86v1.98h-4.86z" fill="#ff0000"/>
<path d="M143.1 719.05h1.88v1.98h-1.88z" fill="#00ffff"/>
<path d="M143.1 721.04h1.88v1.98h-1.88z" fill="#ff0000"/>
<path d="M143.1 725.01h1.88v1.98h-1.88z" fill="#00bfff"/>
<path d="M140.13 725.01h2.98v1.98h-2.98z" fill="#ffd700"/>
<path d="M136.86 721.04h1.59v1.98h-1.59z" fill="#ff0000"/>
<path d="M116.03 726.99h2.98v10.91h-2.98zM119 726.99h4.96v1.98h-4.96z" fill="#00ffff"/>
<path d="M119 728.97h4.96v1.98h-4.96z" fill="#00bfff"/>
<path d="M123.96 726.99h3.97v3.97h-3.97z" fill="#ffb6c1"/>
<path d="M125.95 726.99h1.98v1.98h-1.98z" fill="#ff0000"/>
<path d="M127.93 726.99h5.95v1.98h-5.95z" fill="#ffb6c1"/>
<path d="M136.86 728.97h3.27v1.98h-3.27z" fill="#00ffff"/>
<path d="M140.13 726.99h2.98v1.98h-2.98z" fill="#ba55d3"/>
<path d="M136.86 726.99h3.27v1.98h-3.27zM119 731.95h2.98v1.69h-2.98z" fill="#ffb6c1"/>
<path d="M119 733.63h2.98v2.28h-2.98z" fill="#ffd700"/>
<path d="M130.9 731.95h2.98v1.98h-2.98z" fill="#ff0000"/>
<path d="M133.88 731.95h2.98v1.98h-2.98z" fill="#ffb6c1"/>
<path d="M136.86 735.92h3.27v1.98h-3.27z" fill="#00bfff"/>
<path d="M396.99 168.09h4.96v1.79h-4.96z" fill="#ffb6c1"/>
<path d="M368.92 316.87h3.97v1.19h-3.97z" fill="#3c3cff"/>
<path d="M335 337.1h7.93v5.75h-7.93z" fill="#008000"/>
<path d="M342.93 337.1h6.94v1.79h-6.94z" fill="#ba55d3"/>
<path d="M335 346.03h7.93v1.79h-7.93z" fill="#008000"/>
<path d="M342.93 346.03h6.94v1.79h-6.94zM349.88 348.01h5.95v1.79h-5.95z" fill="#ba55d3"/>
<path d="M364.95 346.03h3.97v1.79h-3.97z" fill="#ffd700"/>
<path d="M364.95 355.95h3.97v0.99h-3.97zM372.89 355.95h2.98v0.99h-2.98z" fill="#ba55d3"/>
<path d="M375.86 353.96h2.98v1.98h-2.98z" fill="#ffb6c1"/>
<path d="M342.93 355.95h6.94v0.99h-6.94z" fill="#ba55d3"/>
<path d="M342.93 356.94h6.94v1.98h-6.94z" fill="#ff0000"/>
<path d="M342.93 358.92h6.94v1.79h-6.94z" fill="#008000"/>
<path d="M364.95 358.92h3.97v5.95h-3.97z" fill="#ffd700"/>
<path d="M342.93 362.89h6.94v3.97h-6.94z" fill="#ff0000"/>
<path d="M349.88 364.87h5.95v1.98h-5.95zM342.93 366.86h6.94v2.98h-6.94z" fill="#ba55d3"/>
<path d="M342.93 369.83h6.94v1.98h-6.94z" fill="#ff0000"/>
<path d="M342.93 371.81h6.94v1.98h-6.94z" fill="#ba55d3"/>
<path d="M342.93 373.8h6.94v1.98h-6.94zM335 376.08h7.93v1.49h-7.93z" fill="#008000"/>
<path d="M342.93 376.08h12.89v3.67h-12.89zM342.93 379.75h6.94v2.98h-6.94z" fill="#ba55d3"/>
<path d="M342.93 383.02h6.94v1.69h-6.94z" fill="#ffb6c1"/>
<path d="M349.88 382.03h5.95v0.99h-5.95z" fill="#ff0000"/>
<path d="M349.88 383.02h5.95v1.69h-5.95z" fill="#ffd700"/>
<path d="M349.88 385.01h5.95v1.69h-5.95zM349.88 388.97h5.95v1.69h-5.95zM342.93 390.96h6.94v10.61h-6.94zM349.88 398.1h5.95v10.71h-5.95z" fill="#ba55d3"/>
<path d="M335 394.92h7.93v0.99h-7.93z" fill="#008000"/>
<path d="M364.95 395.92h3.97v1.98h-3.97z" fill="#3c3cff"/>
<path d="M364.95 397.9h3.97v1.98h-3.97z" fill="#ffd700"/>
<path d="M342.93 405.83h6.94v1.98h-6.94z" fill="#ff0000"/>
<path d="M342.93 407.82h6.94v2.18h-6.94z" fill="#008000"/>
<path d="M349.88 408.81h5.95v1.19h-5.95z" fill="#ffb6c1"/>
<path d="M355.83 408.81h4.96v1.19h-4.96z" fill="#ffd700"/>
<path d="M342.93 410h6.94v0.99h-6.94z" fill="#008000"/>
<path d="M349.88 410h5.95v2.98h-5.95z" fill="#ffb6c1"/>
<path d="M355.83 410h4.96v0.99h-4.96z" fill="#ffd700"/>
<path d="M355.83 410.99h4.96v1.98h-4.96z" fill="#ba55d3"/>
<path d="M335 410.99h7.93v3.77h-7.93z" fill="#008000"/>
<path d="M342.93 410.99h6.94v3.77h-6.94zM349.88 412.98h5.95v7.93h-5.95z" fill="#ba55d3"/>
<path d="M342.93 419.12h6.94v1.79h-6.94z" fill="#ff0000"/>
<path d="M342.93 422.1h6.94v5.95h-6.94zM349.88 422.1h5.95v1.98h-5.95zM349.88 426.07h5.95v1.98h-5.95z" fill="#ba55d3"/>
<path d="M355.83 422.1h4.96v5.95h-4.96z" fill="#ffd700"/>
<path d="M355.83 428.05h4.96v1.79h-4.96z" fill="#ffb6c1"/>
<path d="M342.93 428.05h6.94v3.97h-6.94z" fill="#ff0000"/>
<path d="M342.93 432.02h6.94v1.98h-6.94zM349.88 430.04h5.95v10.71h-5.95z" fill="#ba55d3"/>
<path d="M355.83 434h4.96v2.98h-4.96z" fill="#ffd700"/>
<path d="M355.83 436.98h4.96v1.98h-4.96z" fill="#ffb6c1"/>
<path d="M335 430.04h7.93v6.94h-7.93z" fill="#00ffff"/>
<path d="M335 436.98h7.93v3.97h-7.93zM342.93 438.96h6.94v1.98h-6.94z" fill="#ffd700"/>
<path d="M342.93 440.95h6.94v1.98h-6.94z" fill="#ff0000"/>
<path d="M342.93 443.23h12.89v3.67h-12.89z" fill="#ba55d3"/>
<path d="M335 446.9h7.93v0.99h-7.93z" fill="#008000"/>
<path d="M342.93 446.9h6.94v1.29h-6.94z" fill="#3c3cff"/>
<path d="M342.93 448.19h6.94v1.69h-6.94z" fill="#ff0000"/>
<path d="M342.93 449.87h6.94v1.98h-6.94z" fill="#ffb6c1"/>
<path d="M349.88 449.87h5.95v5.95h-5.95z" fill="#ba55d3"/>
<path d="M355.83 454.14h4.96v1.98h-4.96z" fill="#ff0000"/>
<path d="M342.93 454.14h6.94v1.98h-6.94z" fill="#ffb6c1"/>
<path d="M342.93 456.12h6.94v1.98h-6.94z" fill="#ffd700"/>
<path d="M342.93 458.1h6.94v2.68h-6.94z" fill="#ba55d3"/>
<path d="M335 458.1h7.93v2.68h-7.93z" fill="#008000"/>
<path d="M342.93 465.05h6.94v1.69h-6.94z" fill="#ffb6c1"/>
<path d="M342.93 467.03h6.94v1.98h-6.94z" fill="#00ffff"/>
<path d="M335 467.03h7.93v1.98h-7.93z" fill="#ffd700"/>
<path d="M335 469.01h7.93v1.98h-7.93z" fill="#008000"/>
<path d="M342.93 469.01h6.94v1.98h-6.94z" fill="#ffb6c1"/>
<path d="M349.88 471h5.95v1.98h-5.95z" fill="#ba55d3"/>
<path d="M335 472.98h7.93v2.98h-7.93zM335 479.92h7.93v1.98h-7.93z" fill="#ffd700"/>
<path d="M335 481.91h7.93v1.98h-7.93z" fill="#ffb6c1"/>
<path d="M335 485.88h7.93v6.94h-7.93zM335 496.98h7.93v14.88h-7.93z" fill="#ffd700"/>
<path d="M396.99 519h4.96v1.98h-4.96zM396.99 556h4.96v1.98h-4.96z" fill="#ff0000"/>
<path d="M396.99 576.03h4.96v1.79h-4.96z" fill="#ffb6c1"/>
<path d="M544.06 171.81h6.94v1.98h-6.94zM582.74 186.88h6.35v1.98h-6.35zM551 212.87h5.95v1.98h-5.95zM582.74 210.89h6.35v1.98h-6.35z" fill="#ffd700"/>
<path d="M537.12 236.87h6.94v1.98h-6.94z" fill="#00bfff"/>
<path d="M537.12 258.89h6.94v1.98h-6.94z" fill="#ffb6c1"/>
<path d="M745.96 171.81h21.82v1.98h-21.82zM637.26 196.01h12.5v1.79h-12.5z" fill="#ba55d3"/>
<path d="M730.09 193.83h15.87v1.98h-15.87zM767.78 211.09h17.26v3.97h-17.26zM730.09 222h15.87v1.79h-15.87zM672.96 228.94h10.91v1.98h-10.91z" fill="#ffd700"/>
<path d="M730.09 228.94h15.87v1.98h-15.87z" fill="#ffb6c1"/>
<path d="M730.09 230.92h15.87v1.98h-15.87zM637.26 257.11h12.5v3.57h-12.5zM730.09 268.02h15.87v1.98h-15.87z" fill="#ffd700"/>
<path d="M544.06 294h6.94v1.98h-6.94z" fill="#00ffff"/>
<path d="M610.91 300.15h9.12v4.56h-9.12z" fill="#ffd700"/>
<path d="M551 342.8h5.95v1.19h-5.95z" fill="#ffb6c1"/>
<path d="M551 360.85h5.95v1.98h-5.95z" fill="#00ffff"/>
<path d="M430.99 365.02h9.92v1.98h-9.92z" fill="#ff0000"/>
<path d="M582.74 365.02h6.35v1.98h-6.35z" fill="#ba55d3"/>
<path d="M582.74 394.77h6.35v1.19h-6.35z" fill="#ffd700"/>
<path d="M537.12 405.88h6.94v1.98h-6.94z" fill="#00bfff"/>
<path d="M610.91 410.84h9.12v1.98h-9.12z" fill="#ffb6c1"/>
<path d="M503 418.77h6.74v1.98h-6.74z" fill="#ba55d3"/>
<path d="M556.95 434.84h6.94v1.98h-6.94z" fill="#ffd700"/>
<path d="M650.15 275.95h10.91v1.98h-10.91z" fill="#ba55d3"/>
<path d="M620 300.15h2.78v4.56h-2.78zM650.15 298.37h10.91v1.39h-10.91zM672.96 313.05h10.91v1.98h-10.91z" fill="#ffd700"/>
<path d="M730.09 305.11h15.87v1.98h-15.87z" fill="#ffb6c1"/>
<path d="M767.78 301.94h17.26v1.98h-17.26zM767.78 343.99h17.26v1.98h-17.26z" fill="#ffd700"/>
<path d="M767.78 351.93h17.26v1.98h-17.26zM620 411.24h2.78v1.59h-2.78z" fill="#ffb6c1"/>
<path d="M570.84 440.99h6.35v1.79h-6.35z" fill="#ba55d3"/>
<path d="M530.18 452.1h6.94v1.79h-6.94z" fill="#008000"/>
<path d="M582.74 468.96h6.35v1.98h-6.35z" fill="#ba55d3"/>
<path d="M610.91 459.84h9.12v1.19h-9.12z" fill="#ffd700"/>
<path d="M475.03 481.86h6.94v1.98h-6.94z" fill="#3c3cff"/>
<path d="M503 480.07h6.74v1.98h-6.74z" fill="#00bfff"/>
<path d="M556.95 481.86h6.94v1.98h-6.94zM582.74 508.04h6.35v1.98h-6.35z" fill="#ffd700"/>
<path d="M610.91 506.06h9.12v1.98h-9.12z" fill="#3c3cff"/>
<path d="M610.91 508.04h9.12v1.98h-9.12z" fill="#ffb6c1"/>
<path d="M556.95 516.97h6.94v1.98h-6.94zM610.91 522.72h9.12v1.19h-9.12z" fill="#ffd700"/>
<path d="M556.95 529.86h6.94v1.98h-6.94zM610.91 527.88h9.12v1.98h-9.12z" fill="#ba55d3"/>
<path d="M451.23 540.97h8.53v1.98h-8.53z" fill="#00ffff"/>
<path d="M610.91 542.95h9.12v1.98h-9.12zM610.91 548.7h9.12v1.19h-9.12z" fill="#ffd700"/>
<path d="M475.03 566.95h6.94v1.98h-6.94z" fill="#008000"/>
<path d="M430.99 598.89h9.92v1.98h-9.92z" fill="#ff0000"/>
<path d="M556.95 601.87h6.94v1.98h-6.94z" fill="#ba55d3"/>
<path d="M556.95 603.85h6.94v1.98h-6.94zM620 459.84h2.78v1.19h-2.78z" fill="#ffd700"/>
<path d="M620 506.06h2.78v1.98h-2.78z" fill="#3c3cff"/>
<path d="M620 508.04h2.78v1.98h-2.78z" fill="#ffb6c1"/>
<path d="M620 522.72h2.78v1.19h-2.78z" fill="#ffd700"/>
<path d="M620 527.88h2.78v1.98h-2.78z" fill="#ba55d3"/>
<path d="M620 542.95h2.78v1.98h-2.78zM620 548.7h2.78v1.19h-2.78z" fill="#ffd700"/>
<path d="M650.15 442.98h10.91v1.98h-10.91zM637.26 460.83h12.5v1.98h-12.5z" fill="#ba55d3"/>
<path d="M637.26 462.81h12.5v3.97h-12.5zM730.09 466.98h15.87v1.98h-15.87zM730.09 473.92h15.87v1.98h-15.87zM767.78 459.84h17.26v2.98h-17.26zM637.26 572.91h12.5v1.98h-12.5z" fill="#ffd700"/>
<path d="M767.78 592.94h17.26v1.98h-17.26z" fill="#ba55d3"/>
<path d="M767.78 594.92h17.26v1.98h-17.26z" fill="#ffd700"/>
<path d="M610.91 614.96h9.12v1.98h-9.12z" fill="#ba55d3"/>
<path d="M489.11 627.85h3.97v1.98h-3.97z" fill="#3c3cff"/>
<path d="M489.11 637.97h3.97v1.98h-3.97zM489.11 652.85h3.97v0.99h-3.97zM489.11 666.93h3.97v1.98h-3.97zM537.12 644.91h6.94v1.98h-6.94z" fill="#ba55d3"/>
<path d="M582.74 652.85h6.35v0.99h-6.35z" fill="#ffd700"/>
<path d="M530.18 679.82h6.94v1.98h-6.94z" fill="#ba55d3"/>
<path d="M530.18 681.81h6.94v1.98h-6.94zM551 681.81h5.95v1.98h-5.95zM556.95 692.92h6.94v1.98h-6.94z" fill="#ffb6c1"/>
<path d="M556.95 694.9h6.94v1.98h-6.94zM582.74 692.92h6.35v1.98h-6.35z" fill="#ffd700"/>
<path d="M530.18 709.98h6.94v1.98h-6.94z" fill="#ffb6c1"/>
<path d="M530.18 715.93h6.94v1.98h-6.94z" fill="#00ffff"/>
<path d="M570.84 718.9h6.35v1.98h-6.35zM440.91 713.94h19.24v1.98h-19.24zM460.15 711.96h7.93v1.98h-7.93z" fill="#ba55d3"/>
<path d="M460.15 713.94h7.93v1.98h-7.93z" fill="#00bfff"/>
<path d="M489.11 711.96h3.97v1.98h-3.97z" fill="#ba55d3"/>
<path d="M489.11 715.93h3.97v1.98h-3.97z" fill="#00bfff"/>
<path d="M610.91 707.99h9.12v1.98h-9.12z" fill="#ffb6c1"/>
<path d="M610.91 713.94h9.12v1.98h-9.12z" fill="#ffd700"/>
<path d="M530.18 733.98h6.94v3.97h-6.94z" fill="#ba55d3"/>
<path d="M537.12 735.96h6.94v1.98h-6.94z" fill="#3c3cff"/>
<path d="M610.91 735.96h9.12v1.98h-9.12z" fill="#ffb6c1"/>
<path d="M620 614.96h2.78v1.98h-2.78z" fill="#ba55d3"/>
<path d="M767.78 622.89h17.26v3.97h-17.26z" fill="#ffb6c1"/>
<path d="M650.15 650.86h10.91v1.98h-10.91zM637.26 661.97h12.5v1.98h-12.5zM683.87 681.81h9.92v1.98h-9.92zM650.15 698.87h10.91v1.98h-10.91z" fill="#ffd700"/>
<path d="M672.96 698.87h10.91v1.98h-10.91z" fill="#ff0000"/>
<path d="M620 707.99h2.78v1.98h-2.78z" fill="#ffb6c1"/>
<path d="M620 713.94h2.78v1.98h-2.78zM683.87 711.96h9.92v1.98h-9.92z" fill="#ffd700"/>
<path d="M661.06 718.11h11.9v2.78h-11.9z" fill="#3c3cff"/>
<path d="M637.26 729.02h12.5v1.98h-12.5z" fill="#ffd700"/>
<path d="M620 735.96h2.78v1.98h-2.78z" fill="#ffb6c1"/>
<path d="M637.26 735.96h12.5v1.98h-12.5z" fill="#ba55d3"/>
<path d="M717.09 660.04h13.02v3.89h-13.02z" fill="#00ffff"/>
<path d="M717.09 663.93h13.02v4.94h-13.02z" fill="#ff0000"/>
<path d="M717.09 668.86h13.02v2.1h-13.02z" fill="#ffb6c1"/>
<path d="M717.09 670.96h13.02v1.89h-13.02z" fill="#ff0000"/>
<path d="M717.09 672.85h13.02v4.2h-13.02z" fill="#00ffff"/>
<path d="M717.09 677.05h13.02v1.89h-13.02z" fill="#ff0000"/>
<path d="M717.09 678.94h13.02v0.84h-13.02z" fill="#00ffff"/>
<path d="M717.09 679.78h13.02v2.31h-13.02z" fill="#ff0000"/>
<path d="M717.09 682.09h13.02v1.89h-13.02z" fill="#00ffff"/>
<path d="M717.09 683.98h13.02v3.99h-13.02z" fill="#ff0000"/>
<path d="M717.09 687.98h13.02v3.99h-13.02z" fill="#00ffff"/>
<path d="M717.09 691.97h13.02v1.05h-13.02z" fill="#ff0000"/>
<path d="M717.09 693.02h13.02v2.1h-13.02z" fill="#00ffff"/>
<path d="M717.09 695.12h13.02v14.91h-13.02z" fill="#ff0000"/>
<path d="M717.09 710.03h13.02v3.99h-13.02z" fill="#ffb6c1"/>
<path d="M717.09 714.02h13.02v5.04h-13.02z" fill="#ff0000"/>
<path d="M717.09 719.06h13.02v1.89h-13.02z" fill="#ffd700"/>
<path d="M717.09 720.95h13.02v3.99h-13.02z" fill="#ffb6c1"/>
<path d="M717.09 724.94h13.02v2.1h-13.02z" fill="#00ffff"/>
<path d="M717.09 727.04h13.02v3.99h-13.02z" fill="#ff0000"/>
<path d="M717.09 731.03h13.02v2.94h-13.02z" fill="#ffb6c1"/>
<path d="M717.09 733.97h13.02v1.89h-13.02z" fill="#ff0000"/>
<path d="M717.09 735.86h13.02v2.1h-13.02z" fill="#00ffff"/>
<path d="M417.12 581.98h5.95v6.94h-5.95z" fill="#ffd700"/>
<path d="M375.96 641h2.98v3.97h-2.98zM375.96 655.88h2.98v1.98h-2.98zM375.96 661.83h2.98v3.17h-2.98zM375.96 665h2.98v0.99h-2.98zM375.96 670.75h2.98v2.18h-2.98z" fill="#ba55d3"/>
<path d="M295 515h28v30h-28z" fill="#ffffff"/>
<path d="M295 519.03h1.93v4.03h-1.93z" fill="#ffd700"/>
<path d="M318.98 515h4.03v6.13h-4.03z" fill="#008000"/>
<path d="M314.95 516.93h4.03v2.1h-4.03z" fill="#00ffff"/>
<path d="M314.95 519.03h4.03v2.1h-4.03z" fill="#008000"/>
<path d="M314.95 521.13h4.03v1.93h-4.03z" fill="#3c3cff"/>
<path d="M318.98 521.13h4.03v1.93h-4.03z" fill="#00bfff"/>
<path d="M311.1 523.05h3.85v0.53h-3.85z" fill="#ba55d3"/>
<path d="M311.1 523.58h3.85v4.38h-3.85z" fill="#00bfff"/>
<path d="M314.95 523.05h8.05v6.65h-8.05z" fill="#008000"/>
<path d="M314.95 526.03h4.03v1.93h-4.03z" fill="#ffd700"/>
<path d="M311.1 527.95h3.85v4.2h-3.85z" fill="#008000"/>
<path d="M314.95 530.05h4.03v2.1h-4.03z" fill="#00bfff"/>
<path d="M314.95 532.15h4.03v3.85h-4.03z" fill="#008000"/>
<path d="M311.1 532.15h3.85v1.93h-3.85z" fill="#00ffff"/>
<path d="M307.08 532.15h4.03v1.93h-4.03z" fill="#008000"/>
<path d="M304.1 532.15h2.98v3.85h-2.98z" fill="#3c3cff"/>
<path d="M307.08 534.08h4.03v1.93h-4.03z" fill="#00bfff"/>
<path d="M311.1 534.08h3.85v8.93h-3.85zM301.13 536h5.95v7h-5.95z" fill="#008000"/>
<path d="M301.13 537.23h2.98v1.75h-2.98z" fill="#ffd700"/>
<path d="M307.08 536h4.03v1.23h-4.03z" fill="#008000"/>
<path d="M307.08 539.15h4.03v1.75h-4.03z" fill="#00bfff"/>
<path d="M307.08 540.9h4.03v2.1h-4.03zM295 538.98h2.1v1.93h-2.1z" fill="#008000"/>
<path d="M297.1 538.98h4.03v1.93h-4.03zM295 541.08h2.1v1.93h-2.1z" fill="#00bfff"/>
<path d="M297.1 540.9h4.03v2.1h-4.03zM295 543h16.1v2h-16.1z" fill="#008000"/>
<path d="M232.3 563.5h5.6v1.4h-5.6z" fill="#00bfff"/>
<path d="M226 582.26h3.85v1.89h-3.85z" fill="#ffb6c1"/>
<path d="M138.5 100.5V793.5M230.5 100.5V793.5M323.5 100.5V793.5M415.5 100.5V793.5M508.5 100.5V793.5M600.5 100.5V793.5M692.5 100.5V793.5M785.5 100.5V793.5M92.5 793.5H785.5M92.5 669.5H785.5M92.5 545.5H785.5M92.5 421.5H785.5M92.5 298.5H785.5M92.5 174.5H785.5" stroke="#b0b0b0" stroke-width="1.1" fill="none"/>
<rect x="92.5" y="100.5" width="693.0" height="693.0" fill="none" stroke="#000" stroke-width="1.1"/>
<path d="M92.5 793.5v2.9M115.5 793.5v2.9M138.5 793.5v4.9M161.5 793.5v2.9M184.5 793.5v2.9M207.5 793.5v2.9M230.5 793.5v4.9M254.5 793.5v2.9M277.5 793.5v2.9M300.5 793.5v2.9M323.5 793.5v4.9M346.5 793.5v2.9M369.5 793.5v2.9M392.5 793.5v2.9M415.5 793.5v4.9M438.5 793.5v2.9M461.5 793.5v2.9M485.5 793.5v2.9M508.5 793.5v4.9M531.5 793.5v2.9M554.5 793.5v2.9M577.5 793.5v2.9M600.5 793.5v4.9M623.5 793.5v2.9M646.5 793.5v2.9M669.5 793.5v2.9M692.5 793.5v4.9M716.5 793.5v2.9M739.5 793.5v2.9M762.5 793.5v2.9M785.5 793.5v4.9M92.5 793.5v2.9M92.5 793.5h-4.9M92.5 762.5h-2.9M92.5 731.5h-2.9M92.5 700.5h-2.9M92.5 669.5h-4.9M92.5 638.5h-2.9M92.5 607.5h-2.9M92.5 576.5h-2.9M92.5 545.5h-4.9M92.5 514.5h-2.9M92.5 483.5h-2.9M92.5 452.5h-2.9M92.5 421.5h-4.9M92.5 390.5h-2.9M92.5 359.5h-2.9M92.5 329.5h-2.9M92.5 298.5h-4.9M92.5 267.5h-2.9M92.5 236.5h-2.9M92.5 205.5h-2.9M92.5 174.5h-4.9M92.5 143.5h-2.9M92.5 112.5h-2.9" stroke="#000" stroke-width="1.1" fill="none"/>
<text x="153.12" y="31.90" font-family="Liberation Sans, sans-serif" font-size="29.45" textLength="58.5" lengthAdjust="spacingAndGlyphs">NAL</text>
<text x="219.40" y="31.90" font-family="Liberation Sans, sans-serif" font-size="29.45" textLength="72.22" lengthAdjust="spacingAndGlyphs">CADI</text>
<text x="298.74" y="31.90" font-family="Liberation Sans, sans-serif" font-size="29.45" textLength="11.61" lengthAdjust="spacingAndGlyphs">-</text>
<text x="317.82" y="31.90" font-family="Liberation Sans, sans-serif" font-size="29.45" textLength="46.59" lengthAdjust="spacingAndGlyphs">Jun</text>
<text x="373.43" y="31.90" font-family="Liberation Sans, sans-serif" font-size="29.45" textLength="36.75" lengthAdjust="spacingAndGlyphs">29</text>
<text x="419.24" y="31.90" font-family="Liberation Sans, sans-serif" font-size="29.45" textLength="129.82" lengthAdjust="spacingAndGlyphs">03:30:00</text>
<text x="557.83" y="31.90" font-family="Liberation Sans, sans-serif" font-size="29.45" textLength="73.47" lengthAdjust="spacingAndGlyphs">2023</text>
<text x="640.72" y="31.90" font-family="Liberation Sans, sans-serif" font-size="29.45" textLength="57.84" lengthAdjust="spacingAndGlyphs">UTC</text>
<text x="336.34" y="842.00" font-family="Liberation Sans, sans-serif" font-size="25.8" textLength="123.65" lengthAdjust="spacingAndGlyphs">Frequency</text>
<text x="467.99" y="842.00" font-family="Liberation Sans, sans-serif" font-size="25.8" textLength="69.61" lengthAdjust="spacingAndGlyphs">(MHz)</text>
<text transform="translate(28.00 559.95) rotate(-90)" font-family="Liberation Sans, sans-serif" font-size="25.8" textLength="78.05" lengthAdjust="spacingAndGlyphs">Virtual</text>
<text transform="translate(28.00 473.71) rotate(-90)" font-family="Liberation Sans, sans-serif" font-size="25.8" textLength="75.66" lengthAdjust="spacingAndGlyphs">height</text>
<text transform="translate(28.00 389.84) rotate(-90)" font-family="Liberation Sans, sans-serif" font-size="25.8" textLength="55.66" lengthAdjust="spacingAndGlyphs">(km)</text>
<text transform="translate(943.00 548.37) rotate(-90)" font-family="Liberation Sans, sans-serif" font-size="25.8" textLength="97.65" lengthAdjust="spacingAndGlyphs">Azimuth</text>
<text transform="translate(943.00 444.27) rotate(-90)" font-family="Liberation Sans, sans-serif" font-size="25.8" textLength="108.97" lengthAdjust="spacingAndGlyphs">Direction</text>
<text x="132.88" y="814.90" font-family="Liberation Sans, sans-serif" font-size="17.2" textLength="10.26" lengthAdjust="spacingAndGlyphs">2</text>
<text x="226.27" y="814.90" font-family="Liberation Sans, sans-serif" font-size="17.2" textLength="10.17" lengthAdjust="spacingAndGlyphs">4</text>
<text x="318.00" y="814.90" font-family="Liberation Sans, sans-serif" font-size="17.2" textLength="10.44" lengthAdjust="spacingAndGlyphs">6</text>
<text x="411.16" y="814.90" font-family="Liberation Sans, sans-serif" font-size="17.2" textLength="10.2" lengthAdjust="spacingAndGlyphs">8</text>
<text x="498.64" y="814.90" font-family="Liberation Sans, sans-serif" font-size="17.2" textLength="19.72" lengthAdjust="spacingAndGlyphs">10</text>
<text x="591.64" y="814.90" font-family="Liberation Sans, sans-serif" font-size="17.2" textLength="19.71" lengthAdjust="spacingAndGlyphs">12</text>
<text x="683.66" y="814.90" font-family="Liberation Sans, sans-serif" font-size="17.2" textLength="19.33" lengthAdjust="spacingAndGlyphs">14</text>
<text x="776.64" y="814.90" font-family="Liberation Sans, sans-serif" font-size="17.2" textLength="19.63" lengthAdjust="spacingAndGlyphs">16</text>
<text x="72.20" y="799.00" font-family="Liberation Sans, sans-serif" font-size="17.2" textLength="10.07" lengthAdjust="spacingAndGlyphs">0</text>
<text x="50.57" y="675.20" font-family="Liberation Sans, sans-serif" font-size="17.2" textLength="31.17" lengthAdjust="spacingAndGlyphs">200</text>
<text x="52.08" y="551.40" font-family="Liberation Sans, sans-serif" font-size="17.2" textLength="29.82" lengthAdjust="spacingAndGlyphs">400</text>
<text x="50.52" y="427.60" font-family="Liberation Sans, sans-serif" font-size="17.2" textLength="30.88" lengthAdjust="spacingAndGlyphs">600</text>
<text x="49.95" y="303.80" font-family="Liberation Sans, sans-serif" font-size="17.2" textLength="31.22" lengthAdjust="spacingAndGlyphs">800</text>
<text x="40.59" y="180.00" font-family="Liberation Sans, sans-serif" font-size="17.2" textLength="40.67" lengthAdjust="spacingAndGlyphs">1000</text>
<text x="855.97" y="132.70" font-family="Liberation Sans, sans-serif" font-size="17.2" textLength="34.06" lengthAdjust="spacingAndGlyphs">NNE</text>
<text x="856.01" y="222.70" font-family="Liberation Sans, sans-serif" font-size="17.2" textLength="10.38" lengthAdjust="spacingAndGlyphs">E</text>
<text x="855.91" y="312.70" font-family="Liberation Sans, sans-serif" font-size="17.2" textLength="30.71" lengthAdjust="spacingAndGlyphs">SSE</text>
<text x="855.88" y="402.70" font-family="Liberation Sans, sans-serif" font-size="17.2" textLength="36.27" lengthAdjust="spacingAndGlyphs">SSW</text>
<text x="856.26" y="492.70" font-family="Liberation Sans, sans-serif" font-size="17.2" textLength="15.87" lengthAdjust="spacingAndGlyphs">W</text>
<text x="855.91" y="582.70" font-family="Liberation Sans, sans-serif" font-size="17.2" textLength="40.17" lengthAdjust="spacingAndGlyphs">NNW</text>
<text x="856.08" y="672.70" font-family="Liberation Sans, sans-serif" font-size="17.2" textLength="61.2" lengthAdjust="spacingAndGlyphs">Vertical</text>
<text x="855.93" y="762.70" font-family="Liberation Sans, sans-serif" font-size="17.2" textLength="62.52" lengthAdjust="spacingAndGlyphs">X-mode</text>
<rect x="816.5" y="82" width="30.0" height="90" fill="#00bfff"/>
<rect x="816.5" y="172" width="30.0" height="90" fill="#00ffff"/>
<rect x="816.5" y="262" width="30.0" height="90" fill="#ffd700"/>
<rect x="816.5" y="352" width="30.0" height="90" fill="#ffb6c1"/>
<rect x="816.5" y="442" width="30.0" height="90" fill="#ba55d3"/>
<rect x="816.5" y="532" width="30.0" height="90" fill="#3c3cff"/>
<rect x="816.5" y="622" width="30.0" height="90" fill="#ff0000"/>
<rect x="816.5" y="712" width="30.0" height="90" fill="#008000"/>
<rect x="816.5" y="82.5" width="30.0" height="720.0" fill="none" stroke="#000" stroke-width="1.1"/>
<path d="M846.5 82.5h2.9M846.5 172.5h2.9M846.5 262.5h2.9M846.5 352.5h2.9M846.5 442.5h2.9M846.5 532.5h2.9M846.5 622.5h2.9M846.5 712.5h2.9M846.5 802.5h2.9M846.5 127.5h4.9M846.5 217.5h4.9M846.5 307.5h4.9M846.5 397.5h4.9M846.5 487.5h4.9M846.5 577.5h4.9M846.5 667.5h4.9M846.5 757.5h4.9" stroke="#000" stroke-width="1.1" fill="none"/>
</svg></body></html>
